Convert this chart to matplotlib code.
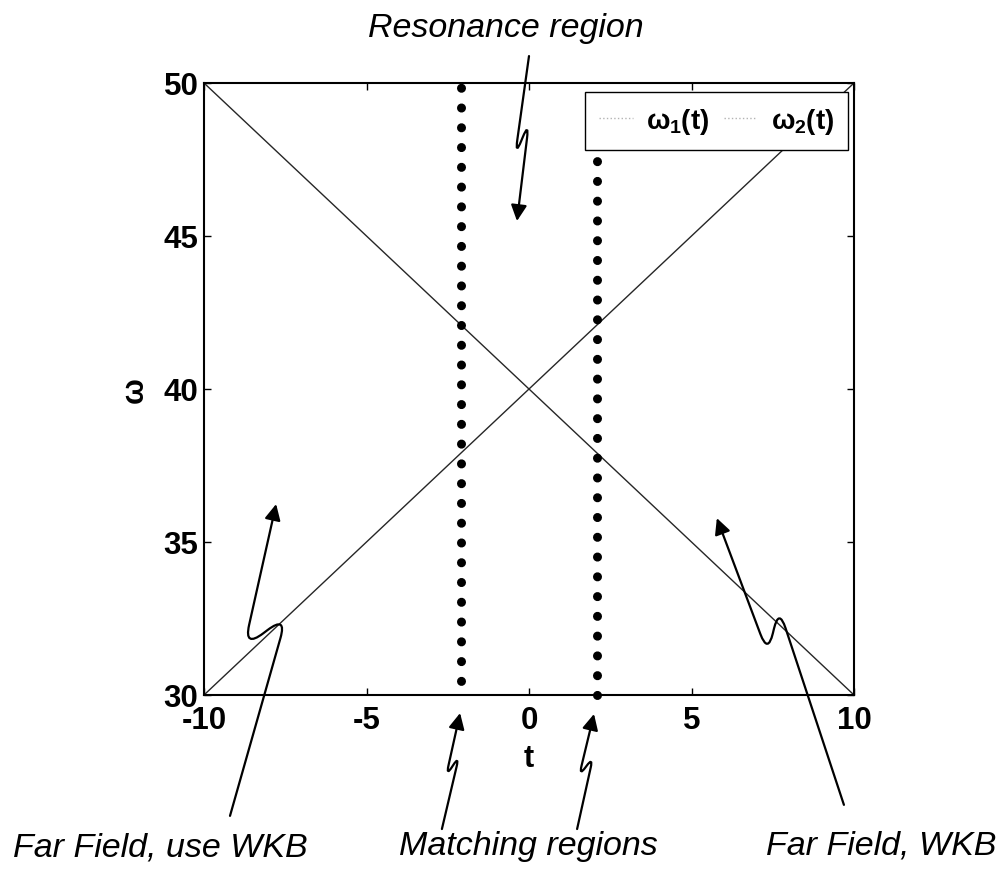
import numpy as np
import matplotlib
matplotlib.use('Agg')
import matplotlib.pyplot as plt
from matplotlib.path import Path
from matplotlib.patches import FancyArrowPatch
from matplotlib.lines import Line2D

plt.rcParams['font.family'] = ['Liberation Sans', 'DejaVu Sans']
plt.rcParams['font.weight'] = 'bold'
plt.rcParams['mathtext.fontset'] = 'custom'
plt.rcParams['mathtext.rm'] = 'Liberation Sans:bold'
plt.rcParams['mathtext.it'] = 'Liberation Sans:bold'
plt.rcParams['mathtext.bf'] = 'Liberation Sans:bold'
plt.rcParams['axes.unicode_minus'] = False

# two crossing frequencies
t = [-10, 10]
omega1 = [50, 30]
omega2 = [30, 50]
series_labels = [r'$\omega_1(t)$', r'$\omega_2(t)$']

# edges of the resonance region
matching_t = [-2.1, 2.1]

x_ticks = [-10, -5, 0, 5, 10]
y_ticks = [30, 35, 40, 45, 50]

# arrow strokes (t, omega): tail, upper kink, lower kink, head
arrow_strokes = [
    [(-9.20, 26.05), (-7.45, 32.60), (-8.77, 31.54), (-7.78, 36.24)],
    [(9.69, 26.41), (7.69, 32.84), (7.35, 31.34), (5.78, 35.78)],
    [(0.00, 50.88), (-0.43, 47.61), (0.00, 48.73), (-0.37, 45.49)],
    [(-2.68, 25.62), (-2.15, 28.01), (-2.55, 27.35), (-2.12, 29.41)],
    [(1.48, 25.62), (1.97, 27.97), (1.54, 27.35), (2.00, 29.38)],
]


def squiggle(pts, frac=0.45):
    """Straight strokes joined by rounded kinks."""
    pts = [np.asarray(p, dtype=float) for p in pts]
    kink = np.linalg.norm(pts[2] - pts[1])
    d = frac * kink
    verts = [pts[0]]
    codes = [Path.MOVETO]
    for a, c, b in zip(pts[:-2], pts[1:-1], pts[2:]):
        u_in = (a - c) / np.linalg.norm(a - c)
        u_out = (b - c) / np.linalg.norm(b - c)
        verts += [c + d * u_in, c, c + d * u_out]
        codes += [Path.LINETO, Path.CURVE3, Path.CURVE3]
    verts.append(pts[-1])
    codes.append(Path.LINETO)
    return Path(np.array(verts), codes)


fig = plt.figure(figsize=(10.03, 8.70), dpi=100)
ax = fig.add_axes([204 / 1003, 174 / 870, 650 / 1003, 612 / 870])

ax.plot(t, omega1, color='0.15', lw=1.0)
ax.plot(t, omega2, color='0.15', lw=1.0)

# dotted boundaries of the matching regions
for x, off in zip(matching_t, [0.63, 0.0]):
    ax.plot([x, x], [30, 50], color='black', lw=6.5,
            linestyle=(off, (0.01, 2.18)), dash_capstyle='round',
            clip_on=False, zorder=3)

ax.set_xlim(-10, 10)
ax.set_ylim(30, 50)
ax.set_xticks(x_ticks)
ax.set_yticks(y_ticks)
ax.tick_params(direction='in', top=True, right=True, length=5, width=1,
               labelsize=22.5)
ax.tick_params(axis='x', pad=7)
ax.tick_params(axis='y', pad=4)
for s in ax.spines.values():
    s.set_linewidth(1.5)

ax.set_xlabel('t', fontsize=22, fontweight='bold')
ax.xaxis.set_label_coords(0.5, -0.078)
ax.set_ylabel('ω', fontsize=22, fontweight='bold')
ax.yaxis.set_label_coords(-0.083, 0.5)

proxies = [Line2D([], [], color='0.7', lw=1, ls=':') for _ in series_labels]
leg = ax.legend(proxies, series_labels, loc='upper right',
                bbox_to_anchor=(0.991, 0.985), borderaxespad=0, ncol=2,
                prop={'size': 20, 'weight': 'bold'}, handlelength=1.2,
                handletextpad=0.5, columnspacing=0.5, borderpad=0.5,
                fancybox=False, framealpha=1, edgecolor='black')
leg.get_frame().set_linewidth(1.0)
leg.set_zorder(5)

for stroke in arrow_strokes:
    arr = FancyArrowPatch(path=squiggle(stroke), arrowstyle='-|>',
                          mutation_scale=24, lw=1.6, color='black',
                          transform=ax.transData, clip_on=False, zorder=4)
    ax.add_artist(arr)

note = dict(ha='center', va='baseline', style='italic', weight='normal',
            size=24.5)
fig.text(506 / 1003, 1 - 37 / 870, 'Resonance region', **note)
fig.text(160 / 1003, 1 - 857 / 870, 'Far Field, use WKB', **note)
fig.text(528 / 1003, 1 - 855 / 870, 'Matching regions', **note)
fig.text(881 / 1003, 1 - 855 / 870, 'Far Field, WKB', **note)

fig.savefig('out.png', dpi=100)
